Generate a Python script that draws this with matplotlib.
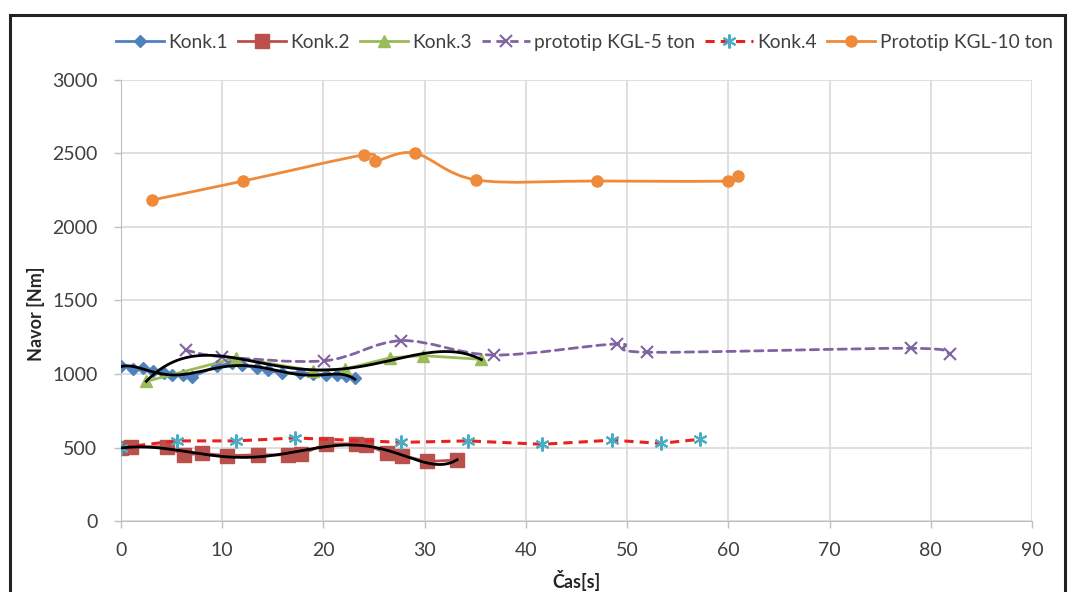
import numpy as np
import matplotlib
matplotlib.use("Agg")
import matplotlib.pyplot as plt
from matplotlib.path import Path
from matplotlib.patches import PathPatch, Rectangle
from matplotlib.lines import Line2D

plt.rcParams['font.family'] = ['Lato', 'DejaVu Sans']

# Data
konk1_t = [0, 1.2, 2.2, 3.2, 4.2, 5.0, 6.1, 7.0, 9.5, 11.0, 12.0, 13.4, 14.5,
           15.9, 17.7, 19.0, 20.3, 21.3, 22.2, 23.1]
konk1_m = [1055, 1035, 1040, 1020, 1010, 995, 990, 980, 1055, 1075, 1060,
           1040, 1025, 1005, 1010, 1000, 995, 995, 985, 970]

konk2_t = [0, 1, 4.5, 6.2, 8.0, 10.5, 13.5, 16.5, 17.8, 20.3, 23.2, 24.2,
           26.3, 27.8, 30.2, 33.2]
konk2_m = [495, 505, 505, 450, 460, 445, 450, 450, 455, 525, 525, 520,
           460, 445, 405, 415]

konk3_t = [2.5, 11.4, 19.0, 22.1, 26.6, 29.8, 35.6]
konk3_m = [950, 1110, 1022, 1034, 1110, 1125, 1100]

kgl5_t = [6.4, 9.95, 20.1, 27.7, 36.8, 49.0, 52.0, 78.0, 81.9]
kgl5_m = [1163, 1118, 1090, 1227, 1129, 1204, 1148, 1175, 1136]

konk4_t = [0, 5.5, 11.4, 17.2, 27.7, 34.3, 41.6, 48.5, 53.3, 57.2]
konk4_m = [500, 545, 545, 565, 535, 545, 522, 550, 528, 556]

kgl10_t = [3.1, 12.1, 24.0, 25.1, 29.0, 35.1, 47.0, 60.0, 61.0]
kgl10_m = [2184, 2313, 2490, 2449, 2503, 2320, 2313, 2313, 2347]

labels = ["Konk.1", "Konk.2", "Konk.3", "prototip KGL-5 ton", "Konk.4",
          "Prototip KGL-10 ton"]

c_blue = "#4F81BD"
c_red = "#B9504C"
c_green = "#9BBB59"
c_purple = "#8064A2"
c_konk4 = "#E8231F"
c_cyan = "#4BACC6"
c_orange = "#EE8A3A"


def smooth_path(ax, x, y, **kw):
    # Excel-style smoothed line: Catmull-Rom segments as cubic Beziers
    p = np.column_stack([x, y]).astype(float)
    verts = [p[0]]
    codes = [Path.MOVETO]
    n = len(p)
    for i in range(n - 1):
        p0 = p[i - 1] if i > 0 else p[i]
        p3 = p[i + 2] if i + 2 < n else p[i + 1]
        c1 = p[i] + (p[i + 1] - p0) / 6
        c2 = p[i + 1] - (p3 - p[i]) / 6
        verts += [c1, c2, p[i + 1]]
        codes += [Path.CURVE4] * 3
    patch = PathPatch(Path(verts, codes), fill=False, transform=ax.transData,
                      capstyle="round", **kw)
    ax.add_patch(patch)


fig = plt.figure(figsize=(10.7, 5.92), dpi=100)
ax = fig.add_axes([0.1131, 0.1199, 0.9645 - 0.1131, 0.8649 - 0.1199])

# Konk.1
ax.plot(konk1_t, konk1_m, color=c_blue, lw=2, marker="D", ms=6,
        markeredgecolor=c_blue, zorder=3)
# Konk.2
ax.plot(konk2_t, konk2_m, color=c_red, lw=2, marker="s", ms=10,
        markeredgecolor=c_red, zorder=3)
# Konk.3
ax.plot(konk3_t, konk3_m, color=c_green, lw=2, marker="^", ms=8,
        markeredgecolor=c_green, zorder=3)
# prototip KGL-5 ton
smooth_path(ax, kgl5_t, kgl5_m, edgecolor=c_purple, lw=2, ls=(0, (3, 2)), zorder=4)
ax.plot(kgl5_t, kgl5_m, ls="none", marker="x", ms=9, mew=1.5, color=c_purple,
        zorder=4)
# Konk.4
ax.plot(konk4_t, konk4_m, color=c_konk4, lw=2.2, ls=(0, (3, 2)), zorder=4)
ax.plot(konk4_t, konk4_m, ls="none", marker=(6, 2, 0), ms=10, mew=1.5,
        color=c_cyan, zorder=4)
# Prototip KGL-10 ton
smooth_path(ax, kgl10_t, kgl10_m, edgecolor=c_orange, lw=2, zorder=4)
ax.plot(kgl10_t, kgl10_m, ls="none", marker="o", ms=8, color=c_orange, zorder=4)

# polynomial trendlines (black)
for tt, mm, deg in [(konk1_t, konk1_m, 6), (konk2_t, konk2_m, 6),
                    (konk3_t, konk3_m, 4)]:
    coef = np.polyfit(tt, mm, deg)
    xs = np.linspace(min(tt), max(tt), 200)
    ax.plot(xs, np.polyval(coef, xs), color="black", lw=2, zorder=5)

ax.set_xlim(0, 90)
ax.set_ylim(0, 3000)
ax.set_xticks(range(0, 91, 10))
ax.set_yticks(range(0, 3001, 500))
ax.grid(True, color="#D9D9D9", lw=1.2)
ax.set_axisbelow(True)
for s in ["top", "right"]:
    ax.spines[s].set_visible(False)
for s in ["left", "bottom"]:
    ax.spines[s].set_color("#BFBFBF")
ax.tick_params(colors="#BFBFBF", labelcolor="#404040", labelsize=14,
               length=5, width=1)
ax.tick_params(axis="x", pad=10)
ax.tick_params(axis="y", pad=12)
ax.set_xlabel("Čas[s]", fontsize=13, fontweight="bold", color="#262626",
              labelpad=8)
ax.set_ylabel("Navor [Nm]", fontsize=13, fontweight="bold", color="#262626")
ax.yaxis.set_label_coords(-0.083, 0.47)

handles = [
    Line2D([], [], color=c_blue, lw=2, marker="D", ms=6),
    Line2D([], [], color=c_red, lw=2, marker="s", ms=10),
    Line2D([], [], color=c_green, lw=2, marker="^", ms=8),
    Line2D([], [], color=c_purple, lw=2, ls=(0, (3, 2)), marker="x", ms=9,
           mew=1.5),
    Line2D([], [], color=c_konk4, lw=2.2, ls=(0, (3, 2)), marker=(6, 2, 0),
           ms=10, mew=1.5, markeredgecolor=c_cyan),
    Line2D([], [], color=c_orange, lw=2, marker="o", ms=8),
]
fig.legend(handles, labels, loc="center", bbox_to_anchor=(0.546, 0.929),
           ncol=6, frameon=False, fontsize=13.8, handlelength=2.5,
           handletextpad=0.25, columnspacing=0.5, labelcolor="#404040")

# outer frame
fig.patches.append(Rectangle((0.0093, -0.05), 0.9953 - 0.0093, 0.9747 + 0.05,
                             transform=fig.transFigure, fill=False,
                             edgecolor="#222222", lw=2.2))

fig.savefig("out.png", dpi=100)
